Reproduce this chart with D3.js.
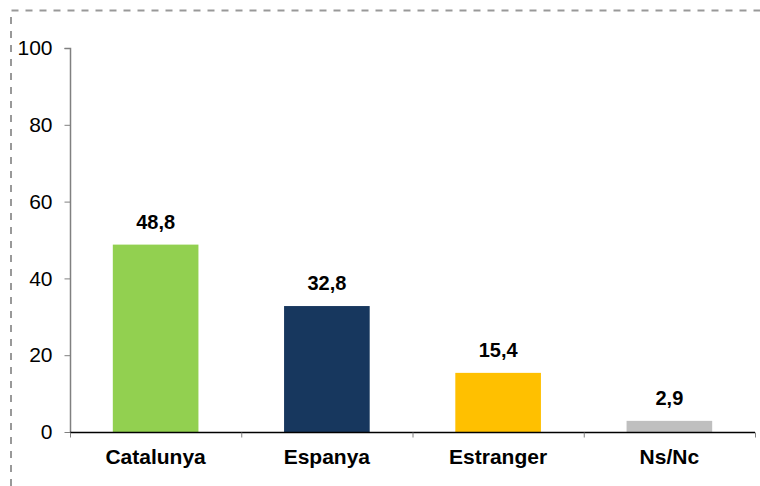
<!DOCTYPE html>
<html><head><meta charset="utf-8">
<script src="https://cdn.jsdelivr.net/npm/d3@7"></script>
<style>body{margin:0;background:#fff;}svg{display:block;font-family:"Liberation Sans",Arial,sans-serif;}</style>
</head><body>
<svg id="chart" width="760" height="486"></svg>
<script>
const categories = ["Catalunya", "Espanya", "Estranger", "Ns/Nc"];
const values = [48.8, 32.8, 15.4, 2.9];
const labels = ["48,8", "32,8", "15,4", "2,9"];
const colors = ["#92D050", "#17375E", "#FFC000", "#BFBFBF"];
const yTicks = [0, 20, 40, 60, 80, 100];

const svg = d3.select("#chart");
// dashed frame
svg.append("path").attr("d", "M11,486 L11,10.5 L760,10.5")
  .attr("fill", "none").attr("stroke", "#999").attr("stroke-width", 2).attr("stroke-dasharray", "7,7");

const x = d3.scaleBand().domain(categories).range([70, 755]).paddingInner(0.5).paddingOuter(0.25);
const xb = d3.scaleBand().domain(categories).range([70, 755]);
const y = d3.scaleLinear().domain([0, 100]).range([432, 48]);

// y axis
const ya = svg.append("g").attr("transform", "translate(70.5,0)")
  .call(d3.axisLeft(y).tickValues(yTicks).tickSize(6).tickPadding(12).tickFormat(d3.format("d")));
ya.select(".domain").attr("stroke", "#808080").attr("stroke-width", 1.5).attr("d", "M-6,48.5H0V432");
ya.selectAll(".tick line").attr("stroke", "#808080");
ya.selectAll("text").attr("font-size", 21).attr("fill", "#000").attr("font-family", "Liberation Sans, Arial, sans-serif");

// bars
svg.selectAll("rect.bar").data(values).join("rect").attr("class", "bar")
  .attr("x", (d, i) => x(categories[i])).attr("width", x.bandwidth())
  .attr("y", d => y(d)).attr("height", d => y(0) - y(d))
  .attr("fill", (d, i) => colors[i]);

// x axis
const xa = svg.append("g").attr("transform", "translate(0,432.5)");
xa.append("line").attr("x1", 70).attr("x2", 755).attr("stroke", "#000").attr("stroke-width", 1.5);
const edges = categories.map(c => xb(c)).concat([755]);
xa.selectAll("line.t").data(edges).join("line").attr("class", "t")
  .attr("x1", d => d + 0.5).attr("x2", d => d + 0.5).attr("y1", 0).attr("y2", 5)
  .attr("stroke", "#808080");
xa.selectAll("text").data(categories).join("text")
  .attr("x", d => xb(d) + xb.bandwidth() / 2).attr("y", 31)
  .attr("text-anchor", "middle").attr("font-size", 21).attr("font-weight", "bold").text(d => d);

// value labels
svg.selectAll("text.val").data(values).join("text").attr("class", "val")
  .attr("x", (d, i) => x(categories[i]) + x.bandwidth() / 2)
  .attr("y", d => y(d) - 16)
  .attr("text-anchor", "middle").attr("font-size", 20).attr("font-weight", "bold")
  .text((d, i) => labels[i]);
</script>
</body></html>
